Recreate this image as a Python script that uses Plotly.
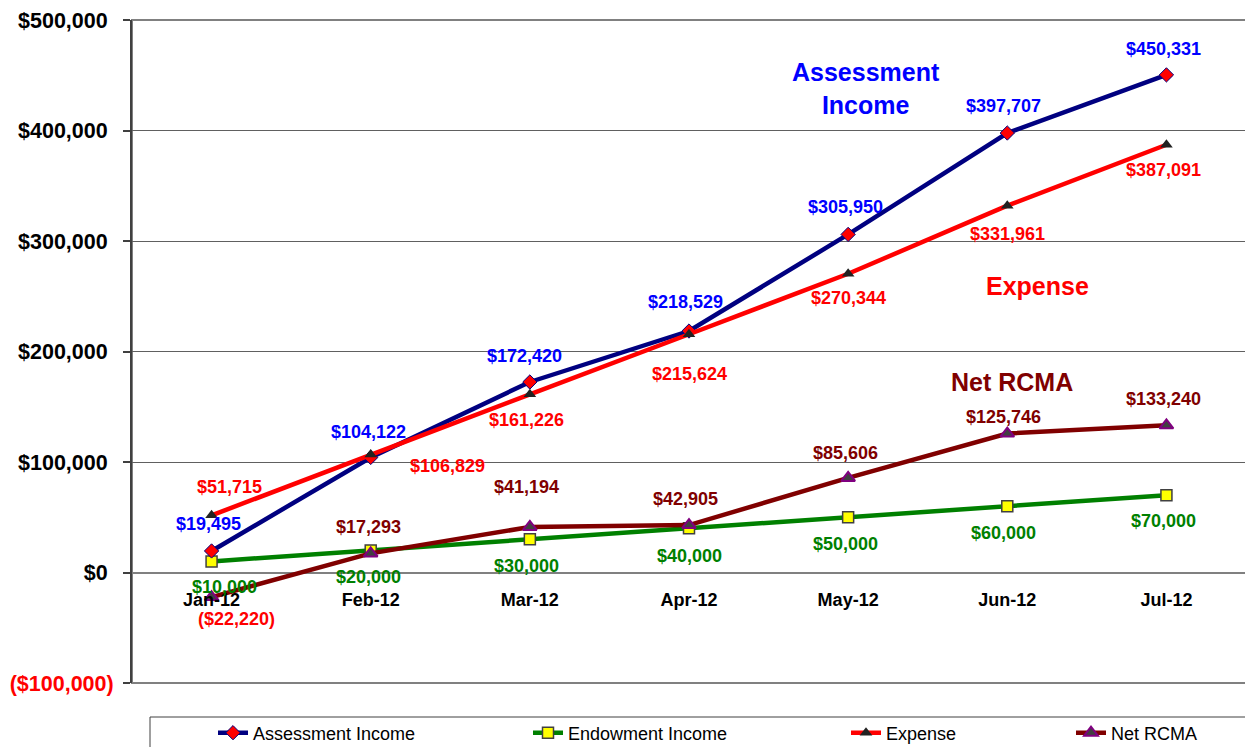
import plotly.graph_objects as go

months = ["Jan-12", "Feb-12", "Mar-12", "Apr-12", "May-12", "Jun-12", "Jul-12"]
assessment = [19495, 104122, 172420, 218529, 305950, 397707, 450331]
endowment = [10000, 20000, 30000, 40000, 50000, 60000, 70000]
expense = [51715, 106829, 161226, 215624, 270344, 331961, 387091]
net_rcma = [-22220, 17293, 41194, 42905, 85606, 125746, 133240]

y_ticks = [-100000, 0, 100000, 200000, 300000, 400000, 500000]

# label offsets in pixels (dx, dy downward)
off_assess = [(-3, -27), (-2, -25), (-5, -26), (-4, -29), (-3, -27), (-4, -27), (-3, -26)]
off_endow = [(13, 26), (-2, 27), (-3, 27), (0, 28), (-3, 27), (-4, 27), (-3, 26)]
off_expense = [(18, -28), (77, 12), (-3, 26), (0, 40), (0, 24), (0, 28), (-3, 25)]
off_net = [(25, 22), (-2, -26), (-3, -40), (-4, -26), (-3, -25), (-4, -17), (-3, -26)]

FONT = "Liberation Sans, Arial, sans-serif"
PAGE_OFF = 8  # default body margin of the html page
W, H = 1253 - PAGE_OFF, 747 - PAGE_OFF
ML, MR, MT, MB = 132 - PAGE_OFF, 7, 20 - PAGE_OFF, 64
PW = W - ML - MR
PH = H - MT - MB


def fmt(v):
    s = "${:,.0f}".format(abs(v))
    return "(" + s + ")" if v < 0 else s


def px_x(px):
    # px given in reference-picture coordinates
    return (px - PAGE_OFF - ML) / PW


def px_y(py):
    return (H - MB - (py - PAGE_OFF)) / PH


fig = go.Figure()

series = [
    ("Endowment Income", endowment, "#008000", "square",
     dict(color="#FFFF00", size=11, line=dict(color="#404040", width=1.5)), "legend2"),
    ("Assessment Income", assessment, "#000080", "diamond",
     dict(color="#FF0000", size=11, line=dict(color="#000080", width=1)), "legend"),
    ("Expense", expense, "#FF0000", "triangle-up",
     dict(color="#222222", size=11, line=dict(color="#222222", width=0)), "legend3"),
    ("Net RCMA", net_rcma, "#800000", "triangle-up",
     dict(color="#404040", size=12, line=dict(color="#800080", width=2)), "legend4"),
]

for name, vals, col, sym, mk, lg in series:
    mk = dict(mk)
    mk["symbol"] = sym
    fig.add_trace(go.Scatter(
        x=months, y=vals, name=name, mode="lines+markers",
        line=dict(color=col, width=4.5), marker=mk, legend=lg,
        hoverinfo="x+y+name",
    ))

annotations = []
label_sets = [
    (assessment, off_assess, "#0000FF"),
    (endowment, off_endow, "#008000"),
    (expense, off_expense, "#FF0000"),
    (net_rcma, off_net, "#800000"),
]
for vals, offs, col in label_sets:
    for m, v, (dx, dy) in zip(months, vals, offs):
        c = "#FF0000" if v < 0 else col
        annotations.append(dict(
            x=m, y=v, text=fmt(v), showarrow=False, xanchor="center", yanchor="middle",
            xshift=dx, yshift=-dy, font=dict(family=FONT, size=18, color=c, weight="bold"),
        ))

# series name callouts
annotations += [
    dict(x=4.11, y=438400, text="Assessment<br>Income", showarrow=False,
         font=dict(family=FONT, size=25, color="#0000FF", weight="bold"), align="center"),
    dict(x=5.19, y=259000, text="Expense", showarrow=False,
         font=dict(family=FONT, size=25, color="#FF0000", weight="bold")),
    dict(x=5.03, y=172100, text="Net RCMA", showarrow=False,
         font=dict(family=FONT, size=25, color="#800000", weight="bold")),
]

tick_text = []
for t in y_ticks:
    if t < 0:
        tick_text.append('<span style="color:#FF0000">' + fmt(t) + "</span>")
    else:
        # accounting format keeps room for the closing parenthesis
        tick_text.append(fmt(t) + "\u00a0")

shapes = [
    dict(type="rect", xref="paper", yref="paper", x0=0, x1=1, y0=0, y1=1,
         line=dict(color="#808080", width=2), layer="below"),
    dict(type="rect", xref="paper", yref="paper", x0=px_x(150), x1=px_x(1290),
         y0=px_y(717), y1=px_y(790), line=dict(color="#404040", width=1)),
]

legend_common = dict(orientation="h", xanchor="left", yanchor="middle",
                     y=px_y(733), bgcolor="rgba(0,0,0,0)", borderwidth=0,
                     font=dict(family=FONT, size=18, color="#000000"))

fig.update_layout(
    width=W, height=H,
    margin=dict(l=ML, r=MR, t=MT, b=MB, autoexpand=False),
    paper_bgcolor="white", plot_bgcolor="white",
    showlegend=True,
    legend=dict(x=px_x(213), **legend_common),
    legend2=dict(x=px_x(528), **legend_common),
    legend3=dict(x=px_x(846), **legend_common),
    legend4=dict(x=px_x(1071), **legend_common),
    xaxis=dict(type="category", categoryorder="array", categoryarray=months,
               range=[-0.5, len(months) - 0.5], anchor="free", position=1 / 6,
               showgrid=False, showline=False, zeroline=False, ticks="",
               ticklabelstandoff=14,
               tickfont=dict(family=FONT, size=18, color="#000000", weight="bold")),
    yaxis=dict(range=[-100000, 500000], tickvals=y_ticks, ticktext=tick_text,
               showgrid=True, gridcolor="#606060", gridwidth=1,
               zeroline=True, zerolinecolor="#808080", zerolinewidth=2,
               showline=True, linecolor="#404040", linewidth=2,
               ticks="outside", ticklen=7, tickcolor="#404040", tickwidth=1.5,
               ticklabelstandoff=5, ticklabeloverflow="allow",
               tickfont=dict(family=FONT, size=21.5, color="#000000", weight="bold")),
    annotations=annotations,
    shapes=shapes,
)

fig.write_html("out.html")
